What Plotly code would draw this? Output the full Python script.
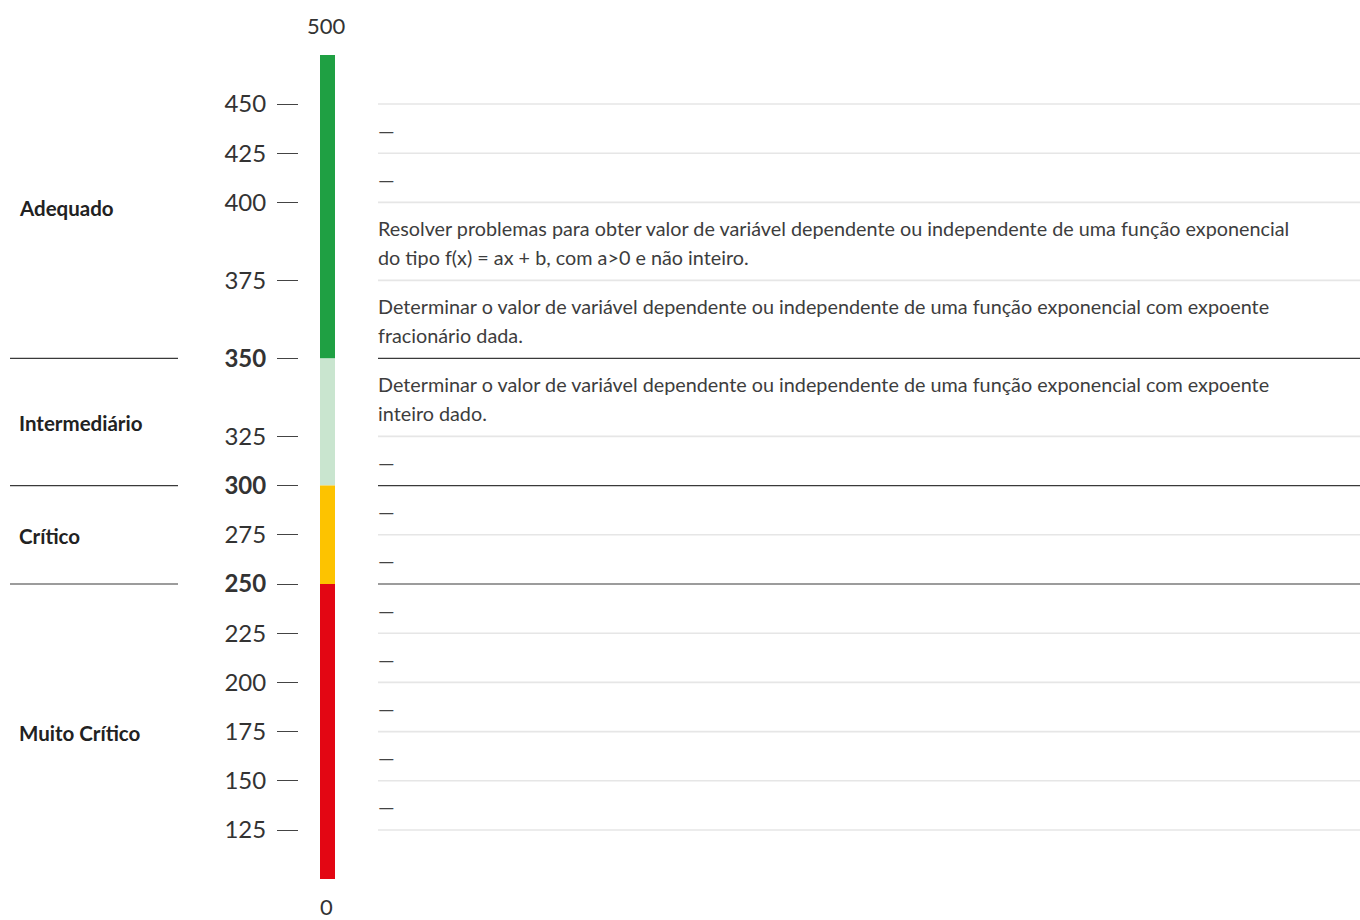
import plotly.graph_objects as go

# ---------------- data ----------------
scale_max = 500
scale_min = 0
scores = [450, 425, 400, 375, 350, 325, 300, 275, 250, 225, 200, 175, 150, 125]
cut_scores = [350, 300, 250]
# description of the row between scores[i] and scores[i+1] ("" -> dash)
descriptions = [
    "",
    "",
    "Resolver problemas para obter valor de variável dependente ou independente de uma função exponencial\ndo tipo f(x) = ax + b, com a>0 e não inteiro.",
    "Determinar o valor de variável dependente ou independente de uma função exponencial com expoente\nfracionário dada.",
    "Determinar o valor de variável dependente ou independente de uma função exponencial com expoente\ninteiro dado.",
    "",
    "",
    "",
    "",
    "",
    "",
    "",
    "",
]
level_names = ["Adequado", "Intermediário", "Crítico", "Muito Crítico"]
level_upper = [500, 350, 300, 250]
level_lower = [350, 300, 250, 0]
level_colors = ["#1fa043", "#c9e5cf", "#fdc300", "#e30613"]

# ---------------- layout constants ----------------
W, H = 1360, 920
TOP = 55          # top of the bar
END_SEG = 49      # segment between 500 and first tick / last tick and 0
ROW_PAD = 20.4
LINE_H = 28.8
FONT = "Lato"

# map score -> vertical position, driven by row contents
pos = {scale_max: TOP}
y = TOP + END_SEG
pos[scores[0]] = y
for i, d in enumerate(descriptions):
    n_lines = len(d.split("\n")) if d else 1
    y += ROW_PAD + n_lines * LINE_H
    pos[scores[i + 1]] = y
pos[scale_min] = y + END_SEG

fig = go.Figure()

# colour bar
BAR_X, BAR_W = 327.5, 15
for name, up, lo, col in zip(level_names, level_upper, level_lower, level_colors):
    fig.add_trace(go.Bar(
        x=[BAR_X], y=[pos[lo] - pos[up]], base=[pos[up]], width=[BAR_W],
        marker=dict(color=col, line=dict(width=0)), name=name,
        hoverinfo="skip", showlegend=False,
    ))

shapes = []
annotations = []

# horizontal row lines
for s in scores:
    is_cut = s in cut_scores
    shapes.append(dict(
        type="line", xref="x", yref="y", x0=378, x1=1360, y0=pos[s], y1=pos[s],
        line=dict(color="#3a3a3a" if is_cut else "#e6e6e6", width=1.2 if is_cut else 1.6),
    ))
    if is_cut:
        shapes.append(dict(
            type="line", xref="x", yref="y", x0=10, x1=178, y0=pos[s], y1=pos[s],
            line=dict(color="#3a3a3a", width=1.2),
        ))

# descriptions
for i, d in enumerate(descriptions):
    top = pos[scores[i]]
    if d:
        for k, ln in enumerate(d.split("\n")):
            annotations.append(dict(
                x=376, y=top + 26 + k * LINE_H, xref="x", yref="y",
                text=ln.replace("&", "&amp;").replace("<", "&lt;").replace(">", "&gt;"),
                showarrow=False, xanchor="left", yanchor="middle",
                font=dict(family=FONT, size=19.8, color="#3d3d3d"),
            ))
    else:
        annotations.append(dict(
            x=376, y=top + 26, xref="x", yref="y", text="—",
            showarrow=False, xanchor="left", yanchor="middle",
            font=dict(family=FONT, size=21, color="#444444"),
        ))

# level names
for name, up, lo in zip(level_names, level_upper, level_lower):
    annotations.append(dict(
        x=17, y=(pos[up] + pos[lo]) / 2 + 1, xref="x", yref="y", text="<b>%s</b>" % name,
        showarrow=False, xanchor="left", yanchor="middle",
        font=dict(family=FONT, size=20.5, color="#222222"),
    ))

# scale ends
annotations.append(dict(x=BAR_X - 1, y=pos[scale_max] - 30, xref="x", yref="y",
                        text=str(scale_max), showarrow=False, xanchor="center",
                        yanchor="middle", font=dict(family=FONT, size=22, color="#333333")))
annotations.append(dict(x=BAR_X - 1, y=pos[scale_min] + 27, xref="x", yref="y",
                        text=str(scale_min), showarrow=False, xanchor="center", borderpad=0,
                        yanchor="middle", font=dict(family=FONT, size=22, color="#333333")))

ticktext = ["<b>%d</b>" % s if s in cut_scores else str(s) for s in scores]

fig.update_layout(
    width=W, height=H,
    margin=dict(l=0, r=0, t=0, b=0),
    paper_bgcolor="white", plot_bgcolor="white",
    barmode="overlay",
    shapes=shapes, annotations=annotations,
    xaxis=dict(range=[0, W], visible=False, fixedrange=True, domain=[0, 1]),
    yaxis=dict(
        range=[H, 0], autorange=False, anchor="free", position=298 / W,
        showgrid=False, zeroline=False, showline=False,
        tickmode="array", tickvals=[pos[s] for s in scores], ticktext=ticktext,
        ticks="outside", ticklen=21, tickwidth=1.2, tickcolor="#444444",
        ticklabelstandoff=6,
        tickfont=dict(family=FONT, size=24, color="#333333"),
        fixedrange=True,
    ),
    showlegend=False,
)

fig.write_html("out.html", config={"displayModeBar": False},
               post_script="document.body.style.margin='0';document.body.style.overflow='hidden';")
